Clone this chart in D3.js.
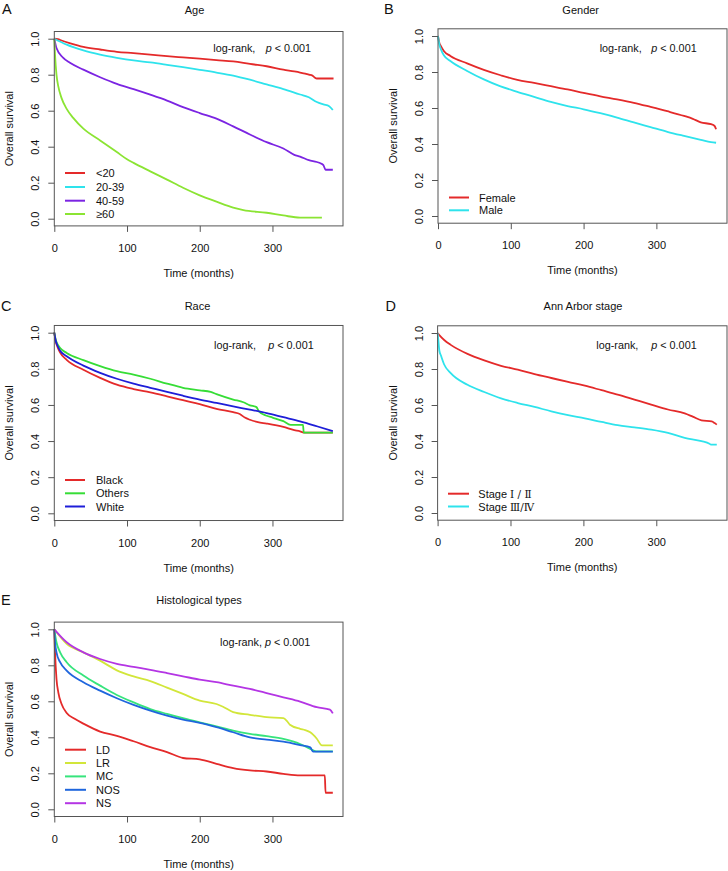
<!DOCTYPE html>
<html>
<head>
<meta charset="utf-8">
<script src="https://cdn.jsdelivr.net/npm/d3@7"></script>
<style>
  body { margin: 0; background: #fff; }
  text { font-family: "Liberation Sans", Arial, sans-serif; fill: #111; }
</style>
</head>
<body>
<script>
// ---------- data (time in months, overall survival) ----------
const xTicks = [0, 100, 200, 300];
const yTicks = [0, 0.2, 0.4, 0.6, 0.8, 1.0];

// A: Age
const ageLt20 = [[0,1],[5,0.997],[10,0.99],[21,0.976],[40,0.955],[63,0.94],[86,0.927],[109,0.92],[132,0.912],[155,0.903],[177,0.896],[200,0.889],[223,0.881],[246,0.874],[260,0.866],[269,0.86],[292,0.847],[315,0.828],[330,0.818],[338,0.812],[345,0.806],[350,0.8],[355,0.795],[358,0.785],[361,0.779],[384,0.779]];
const age2039 = [[0,1],[17,0.967],[40,0.935],[63,0.912],[86,0.894],[109,0.879],[132,0.868],[155,0.855],[177,0.842],[200,0.827],[223,0.812],[246,0.795],[269,0.772],[292,0.746],[315,0.72],[338,0.69],[350,0.675],[361,0.648],[370,0.635],[378,0.625],[383,0.604]];
const age4059 = [[0,1],[3,0.948],[12,0.895],[21.5,0.866],[40,0.828],[63,0.786],[86,0.749],[109,0.72],[132,0.689],[155,0.656],[177,0.62],[200,0.587],[223,0.556],[246,0.513],[269,0.468],[292,0.425],[315,0.39],[330,0.355],[338,0.345],[350,0.325],[361,0.315],[366,0.308],[370,0.298],[373,0.272],[383,0.272]];
const ageGe60 = [[0,1],[1,0.91],[3,0.8],[5.5,0.735],[10,0.67],[17,0.61],[26,0.56],[40,0.5],[63,0.435],[86,0.37],[100,0.33],[109,0.31],[132,0.263],[155,0.217],[177,0.172],[200,0.13],[223,0.095],[246,0.062],[260,0.048],[292,0.033],[315,0.018],[338,0.006],[368,0.006]];

// B: Gender
const female = [[0,1],[2,0.96],[4,0.944],[8,0.917],[17,0.889],[40,0.848],[63,0.812],[86,0.782],[109,0.756],[132,0.739],[155,0.721],[178,0.703],[200,0.684],[223,0.665],[246,0.648],[269,0.629],[292,0.606],[315,0.582],[338,0.556],[350,0.54],[361,0.52],[375,0.51],[380,0.5],[382,0.482]];
const male = [[0,1],[2,0.95],[4,0.926],[8,0.893],[17,0.861],[40,0.806],[63,0.759],[86,0.72],[109,0.69],[132,0.662],[155,0.634],[178,0.611],[200,0.593],[223,0.571],[246,0.547],[269,0.52],[292,0.494],[315,0.468],[338,0.445],[361,0.423],[375,0.41],[382,0.407]];

// C: Race
const black = [[0,1],[2,0.95],[4,0.925],[8,0.89],[17,0.85],[40,0.795],[63,0.75],[86,0.712],[109,0.688],[132,0.67],[155,0.648],[177,0.626],[200,0.605],[223,0.578],[246,0.56],[255,0.55],[262,0.53],[269,0.518],[280,0.505],[292,0.497],[315,0.478],[330,0.46],[338,0.454],[343,0.447],[383,0.447]];
const others = [[0,1],[2,0.96],[4,0.94],[8,0.915],[17,0.888],[40,0.848],[63,0.815],[86,0.787],[109,0.768],[132,0.745],[155,0.718],[177,0.695],[200,0.681],[215,0.672],[223,0.66],[246,0.63],[260,0.615],[269,0.598],[278,0.588],[281,0.566],[292,0.54],[300,0.53],[315,0.51],[325,0.49],[342,0.49],[343,0.447],[383,0.447]];
const white = [[0,1],[2,0.955],[4,0.932],[8,0.9],[17,0.87],[40,0.818],[63,0.778],[86,0.745],[109,0.718],[132,0.695],[155,0.672],[177,0.651],[200,0.63],[223,0.611],[246,0.592],[269,0.574],[292,0.555],[315,0.532],[338,0.509],[361,0.482],[383,0.455]];

// D: Ann Arbor stage
const stage12 = [[0,1],[3,0.985],[9,0.961],[18,0.934],[41,0.884],[64,0.848],[87,0.818],[110,0.796],[133,0.772],[156,0.75],[179,0.728],[202,0.707],[225,0.682],[247,0.658],[270,0.63],[293,0.602],[316,0.575],[339,0.553],[350,0.535],[362,0.515],[376,0.509],[380,0.5],[383,0.491]];
const stage34 = [[0,1],[1,0.96],[2.5,0.9],[4.6,0.875],[9,0.825],[18,0.777],[41,0.712],[64,0.672],[87,0.637],[110,0.611],[133,0.589],[156,0.565],[179,0.544],[202,0.526],[225,0.506],[247,0.488],[270,0.476],[293,0.463],[316,0.445],[339,0.418],[362,0.399],[373,0.385],[375,0.38],[383,0.38]];

// E: Histological types
const histLD = [[0,1],[0.5,0.93],[1,0.872],[3,0.724],[5.5,0.65],[10,0.585],[17,0.535],[28,0.503],[40,0.476],[63,0.432],[86,0.408],[109,0.378],[132,0.346],[155,0.318],[177,0.285],[200,0.277],[223,0.253],[246,0.229],[269,0.216],[292,0.21],[315,0.197],[338,0.188],[372,0.188],[373,0.092],[383,0.092]];
const histLR = [[0,1],[17,0.919],[40,0.872],[63,0.826],[86,0.772],[109,0.738],[132,0.712],[155,0.676],[177,0.641],[200,0.604],[223,0.585],[232,0.57],[246,0.54],[269,0.525],[292,0.512],[315,0.506],[320,0.49],[324,0.47],[338,0.447],[345,0.44],[352,0.428],[361,0.392],[368,0.355],[383,0.355]];
const histMC = [[0,1],[3,0.928],[8,0.872],[17,0.817],[40,0.743],[63,0.687],[86,0.635],[109,0.594],[132,0.557],[155,0.53],[177,0.506],[200,0.483],[223,0.461],[246,0.437],[269,0.419],[292,0.406],[315,0.391],[338,0.363],[352,0.335],[360,0.322],[383,0.322]];
const histNOS = [[0,1],[1,0.93],[3,0.872],[8,0.817],[17,0.77],[40,0.706],[63,0.659],[86,0.617],[109,0.58],[132,0.548],[155,0.52],[177,0.498],[200,0.48],[223,0.456],[246,0.428],[269,0.4],[292,0.387],[315,0.376],[338,0.357],[352,0.344],[356,0.32],[383,0.32]];
const histNS = [[0,1],[17,0.928],[40,0.872],[63,0.835],[86,0.808],[109,0.791],[132,0.775],[155,0.757],[177,0.739],[200,0.72],[223,0.706],[246,0.687],[269,0.669],[292,0.646],[315,0.622],[338,0.598],[361,0.567],[379,0.554],[383,0.533]];

// ---------- panels (layout) ----------
const panels = [
  { letter: "A", title: "Age", x0: 54.3, x1: 343, s1: 38.7, s0: 218.7,
    letterPos: [2, 13.5], titlePos: [194.5, 14], lr: [213.3, 265.7, 51.7],
    leg: { lx0: 65, lx1: 85, tx: 96, ys: [173, 187, 200.7, 214] },
    series: [ {name: "<20", data: ageLt20, color: "#E42A2A"},
              {name: "20-39", data: age2039, color: "#2EE3EC"},
              {name: "40-59", data: age4059, color: "#7B24E2"},
              {name: "\u226560", data: ageGe60, color: "#8BE433"} ] },
  { letter: "B", title: "Gender", x0: 438, x1: 727, s1: 36, s0: 216,
    letterPos: [384, 13.5], titlePos: [580.7, 14], lr: [599.7, 651.3, 51.7],
    leg: { lx0: 449, lx1: 469, tx: 479, ys: [197.5, 210.3] },
    series: [ {name: "Female", data: female, color: "#E42A2A"},
              {name: "Male", data: male, color: "#2EE3EC"} ] },
  { letter: "C", title: "Race", x0: 54.3, x1: 343, s1: 332.7, s0: 513.3,
    letterPos: [1, 311], titlePos: [197.5, 310], lr: [214, 268.3, 349],
    leg: { lx0: 65, lx1: 85, tx: 96, ys: [480, 493.3, 506.5] },
    series: [ {name: "Black", data: black, color: "#E42A2A"},
              {name: "Others", data: others, color: "#36DD36"},
              {name: "White", data: white, color: "#1E1ED8"} ] },
  { letter: "D", title: "Ann Arbor stage", x0: 437.6, x1: 727, s1: 333, s0: 513,
    letterPos: [385.5, 311], titlePos: [583, 310], lr: [596.3, 651.3, 349],
    leg: { lx0: 448, lx1: 469, tx: 478.3, ys: [493.7, 506.5] },
    series: [ {name: "Stage ", roman: "\u2160 / \u2161", data: stage12, color: "#E42A2A"},
              {name: "Stage ", roman: "\u2162/\u2163", data: stage34, color: "#2EE3EC"} ] },
  { letter: "E", title: "Histological types", x0: 54.3, x1: 343, s1: 629.3, s0: 809.3,
    letterPos: [1, 605], titlePos: [199, 604], lr: [220, 265, 646],
    leg: { lx0: 65, lx1: 86, tx: 96, ys: [749.7, 763, 776.4, 789.8, 803.2] },
    series: [ {name: "LD", data: histLD, color: "#E42A2A"},
              {name: "LR", data: histLR, color: "#D2E63A"},
              {name: "MC", data: histMC, color: "#36E47C"},
              {name: "NOS", data: histNOS, color: "#1F66DD"},
              {name: "NS", data: histNS, color: "#B435E4"} ] }
];

const svg = d3.select("body").append("svg")
  .attr("width", 728).attr("height", 871)
  .style("background", "#fff");

const FS = 11;
const axisColor = "#555";

panels.forEach(p => {
  const g = svg.append("g");
  const x = d3.scaleLinear().domain([0, 397]).range([p.x0, p.x1]);
  const y = d3.scaleLinear().domain([0, 1]).range([p.s0, p.s1]);
  const pad = 0.04 * (p.s0 - p.s1);
  const yTop = p.s1 - pad, yBot = p.s0 + pad;

  // curves
  const line = d3.line().curve(d3.curveMonotoneX).x(d => x(d[0])).y(d => y(d[1]));
  p.series.forEach(s => {
    g.append("path").datum(s.data)
      .attr("d", line)
      .attr("fill", "none")
      .attr("stroke", s.color)
      .attr("stroke-width", 1.8)
      .attr("stroke-linejoin", "round");
  });

  // box
  g.append("rect")
    .attr("x", p.x0).attr("y", yTop)
    .attr("width", p.x1 - p.x0).attr("height", yBot - yTop)
    .attr("fill", "none").attr("stroke", axisColor).attr("stroke-width", 1);

  // x axis
  const gx = g.append("g").attr("transform", `translate(0,${yBot})`)
    .call(d3.axisBottom(x).tickValues(xTicks).tickSize(6).tickFormat(d => d));
  gx.select(".domain").remove();
  gx.selectAll("line").attr("stroke", axisColor);
  gx.selectAll("text").attr("y", 26).attr("dy", null)
    .style("font-family", '"Liberation Sans", Arial, sans-serif')
    .style("font-size", FS + "px").attr("fill", "#111");

  // y axis
  const gy = g.append("g").attr("transform", `translate(${p.x0},0)`)
    .call(d3.axisLeft(y).tickValues(yTicks).tickSize(6).tickFormat(d3.format(".1f")));
  gy.select(".domain").remove();
  gy.selectAll("line").attr("stroke", axisColor);
  gy.selectAll("text")
    .attr("x", null).attr("y", null).attr("dy", null)
    .attr("text-anchor", "middle")
    .attr("transform", "translate(-15,0) rotate(-90)")
    .style("font-family", '"Liberation Sans", Arial, sans-serif')
    .style("font-size", FS + "px").attr("fill", "#111");

  // axis titles
  g.append("text").attr("x", (p.x0 + p.x1) / 2).attr("y", yBot + 51)
    .attr("text-anchor", "middle").style("font-size", FS + "px")
    .text("Time (months)");
  g.append("text")
    .attr("transform", `translate(${p.x0 - 41},${(p.s0 + p.s1) / 2}) rotate(-90)`)
    .attr("text-anchor", "middle").style("font-size", FS + "px")
    .text("Overall survival");

  // title and letter
  g.append("text").attr("x", p.titlePos[0]).attr("y", p.titlePos[1])
    .attr("text-anchor", "middle").style("font-size", FS + "px").text(p.title);
  g.append("text").attr("x", p.letterPos[0]).attr("y", p.letterPos[1])
    .style("font-size", "14.5px").text(p.letter);

  // log-rank annotation
  g.append("text").attr("x", p.lr[0]).attr("y", p.lr[2])
    .style("font-size", "10.8px").text("log-rank,");
  const pt = g.append("text").attr("x", p.lr[1]).attr("y", p.lr[2])
    .style("font-size", "10.8px");
  pt.append("tspan").style("font-style", "italic").text("p");
  pt.append("tspan").text(" < 0.001");

  // legend
  p.series.forEach((s, i) => {
    const ly = p.leg.ys[i];
    g.append("line").attr("x1", p.leg.lx0).attr("x2", p.leg.lx1)
      .attr("y1", ly).attr("y2", ly)
      .attr("stroke", s.color).attr("stroke-width", 2);
    const t = g.append("text").attr("x", p.leg.tx).attr("y", ly + 4)
      .style("font-size", FS + "px");
    t.append("tspan").text(s.name);
    if (s.roman) {
      t.append("tspan")
        .style("font-family", '"DejaVu Serif", "Noto Sans CJK SC", serif')
        .style("font-size", "10.5px")
        .text(s.roman);
    }
  });
});
</script>
</body>
</html>
